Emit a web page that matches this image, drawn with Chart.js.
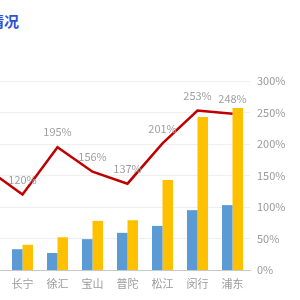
<!DOCTYPE html>
<html>
<head>
<meta charset="utf-8">
<script src="https://cdn.jsdelivr.net/npm/chart.js@4"></script>
<style>
html,body{margin:0;padding:0;width:300px;height:300px;overflow:hidden;background:#fff;}
#wrap{position:relative;width:300px;height:300px;overflow:hidden;}
#c{position:absolute;left:-70px;top:0;}
#title{position:absolute;right:281px;top:11px;white-space:nowrap;font:bold 15px "Noto Sans CJK SC",sans-serif;color:#2f52d4;line-height:20px;}
</style>
</head>
<body>
<div id="wrap">
<div id="title">上海各区发展情况</div>
<canvas id="c" width="370" height="300"></canvas>
</div>
<script>
const categories = ['静安', '长宁', '徐汇', '宝山', '普陀', '松江', '闵行', '浦东'];
const blueValues = [50, 33, 27, 49, 59, 70, 95, 103];
const yellowValues = [80, 40, 52, 78, 79, 143, 243, 257];
const ratioValues = [160, 120, 195, 156, 137, 201, 253, 248];
const rightTicks = [0, 50, 100, 150, 200, 250, 300];

const FONT = '"Noto Sans CJK SC", "Noto Sans", sans-serif';
const VIEW_OFFSET = 70;

const lineLabels = {
  id: 'lineLabels',
  afterDatasetsDraw(chart) {
    const meta = chart.getDatasetMeta(0);
    const ctx = chart.ctx;
    ctx.save();
    ctx.font = '11px ' + FONT;
    ctx.fillStyle = '#a0a0a0';
    ctx.textAlign = 'center';
    ctx.textBaseline = 'middle';
    meta.data.forEach((pt, i) => {
      const txt = ratioValues[i] + '%';
      const w = ctx.measureText(txt).width;
      if (pt.x - w / 2 < VIEW_OFFSET) return;
      ctx.fillText(txt, pt.x, pt.y - 15);
    });
    ctx.restore();
  }
};

new Chart(document.getElementById('c'), {
  type: 'bar',
  data: {
    labels: categories,
    datasets: [
      {
        type: 'line',
        data: ratioValues,
        yAxisID: 'yR',
        borderColor: '#c00000',
        borderWidth: 2.5,
        pointRadius: 0,
        tension: 0,
        order: 0
      },
      {
        data: blueValues,
        yAxisID: 'yL',
        backgroundColor: '#5b9bd5',
        categoryPercentage: 0.6,
        barPercentage: 1.0,
        order: 1
      },
      {
        data: yellowValues,
        yAxisID: 'yL',
        backgroundColor: '#ffc000',
        categoryPercentage: 0.6,
        barPercentage: 1.0,
        order: 2
      }
    ]
  },
  options: {
    responsive: false,
    animation: false,
    devicePixelRatio: 1,
    layout: { padding: { top: 81, left: 0, right: 0, bottom: 0 } },
    plugins: { legend: { display: false }, tooltip: { enabled: false }, title: { display: false } },
    scales: {
      x: {
        grid: { display: false, drawTicks: false },
        border: { color: '#c8c8c8', width: 1 },
        ticks: { color: '#9a9a9a', font: { size: 11, family: FONT }, padding: 7, maxRotation: 0 },
        afterFit(s) { s.height = 30; }
      },
      yL: {
        position: 'left',
        min: 0, max: 300,
        ticks: { stepSize: 50, color: '#9a9a9a', font: { size: 11, family: FONT } },
        grid: { display: false },
        border: { display: false },
        afterFit(s) { s.width = 40; }
      },
      yR: {
        position: 'right',
        min: 0, max: 300,
        afterBuildTicks(s) { s.ticks = rightTicks.map(v => ({ value: v })); },
        ticks: {
          color: '#9a9a9a', font: { size: 11, family: FONT }, padding: 7,
          callback: v => v + '%'
        },
        grid: { color: '#efefef', drawTicks: false, lineWidth: 1 },
        border: { display: false },
        afterFit(s) { s.width = 50; }
      }
    }
  },
  plugins: [lineLabels]
});
</script>
</body>
</html>
